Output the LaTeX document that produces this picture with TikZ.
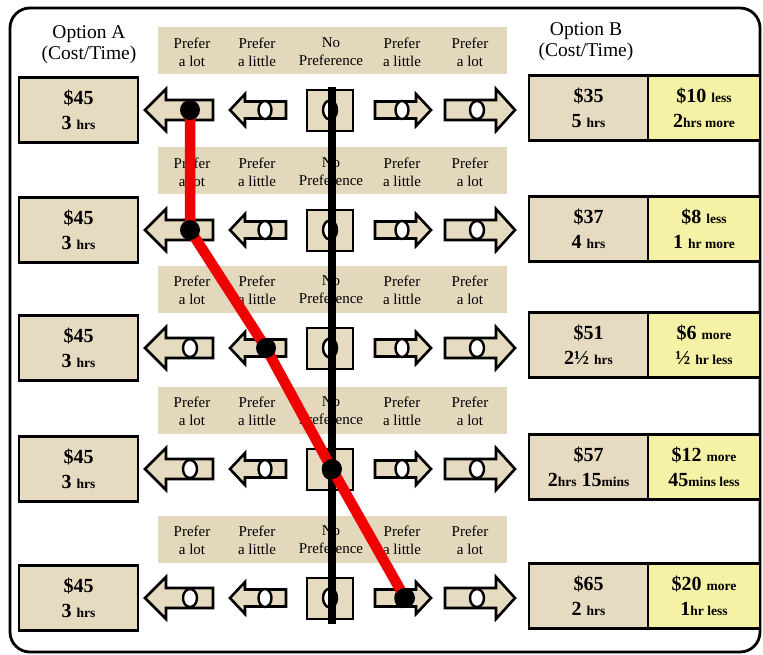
\documentclass[tikz,border=0pt]{standalone}
\usepackage{fontspec}
\setmainfont{Liberation Serif}
\definecolor{tanfill}{RGB}{230,218,193}
\definecolor{bandfill}{RGB}{228,216,188}
\definecolor{yelfill}{RGB}{245,241,165}
\definecolor{redline}{RGB}{240,0,0}
\newcommand\smtxt[1]{{\fontsize{13.5}{25}\selectfont #1}}
\tikzset{
 box/.style={draw=black, line width=2.6pt, fill=tanfill, minimum width=119pt, minimum height=65pt, inner sep=0pt, align=center, font=\bfseries\fontsize{20}{25}\selectfont},
 ybox/.style={box, fill=yelfill, minimum width=112pt},
 band/.style={fill=bandfill, draw=none, minimum width=349pt, minimum height=47pt, inner sep=0pt},
 lbl/.style={align=center, font=\fontsize{15}{18}\selectfont, inner sep=0pt},
 hdr/.style={align=center, font=\fontsize{19.5}{21}\selectfont, inner sep=0pt},
 arr/.style={draw=black, line width=2.6pt, fill=tanfill, line join=miter},
 hole/.style={draw=black, line width=2.4pt, fill=white},
 dot/.style={circle, fill=black, minimum size=20pt, inner sep=0pt},
 redl/.style={draw=redline, line width=10.5pt},
 blackl/.style={draw=black, line width=8pt},
 frame/.style={draw=black, line width=2.8pt, rounded corners=20pt}
}
\begin{document}
\begin{tikzpicture}[x=1pt,y=-1pt]
\useasboundingbox (0,0) rectangle (763,655);
\draw[frame] (10,8) rectangle (760,652);
\node[hdr] (hA) at (89,45) {Option A\\(Cost/Time)};
\node[hdr] (hB) at (586,42) {Option B\\(Cost/Time)};
\foreach \i/\cy in {1/110,2/230,3/348,4/469,5/598}{
  \node[band] (band\i) at (332.5,\cy-59) {};
  \node[lbl] (la\i) at (192,\cy-58) {Prefer\\a lot};
  \node[lbl] (lb\i) at (257,\cy-58) {Prefer\\a little};
  \node[lbl] (lc\i) at (331,\cy-58) {No\\Preference};
  \node[lbl] (ld\i) at (402,\cy-58) {Prefer\\a little};
  \node[lbl] (le\i) at (470,\cy-58) {Prefer\\a lot};
  \node[box] (A\i) at (78.5,\cy) {\$45\\3 \smtxt{hrs}};
  \draw[arr] (145,\cy) -- (166,\cy-21) -- (166,\cy-10) -- (213,\cy-10) -- (213,\cy+10) -- (166,\cy+10) -- (166,\cy+21) -- cycle;
  \draw[hole] (190,\cy) ellipse [x radius=7pt, y radius=9pt];
  \draw[arr] (230,\cy) -- (245,\cy-16) -- (245,\cy-8.5) -- (286,\cy-8.5) -- (286,\cy+8.5) -- (245,\cy+8.5) -- (245,\cy+16) -- cycle;
  \draw[hole] (265,\cy) ellipse [x radius=6.5pt, y radius=9pt];
  \draw[arr] (307,\cy-20) rectangle (353,\cy+21);
  \draw[hole] (330,\cy) ellipse [x radius=7pt, y radius=9.5pt];
  \draw[arr] (431,\cy) -- (416,\cy-16) -- (416,\cy-8.5) -- (375,\cy-8.5) -- (375,\cy+8.5) -- (416,\cy+8.5) -- (416,\cy+16) -- cycle;
  \draw[hole] (402,\cy) ellipse [x radius=6.5pt, y radius=9pt];
  \draw[arr] (515,\cy) -- (496,\cy-21) -- (496,\cy-10) -- (445,\cy-10) -- (445,\cy+10) -- (496,\cy+10) -- (496,\cy+21) -- cycle;
  \draw[hole] (477,\cy) ellipse [x radius=7pt, y radius=9pt];
}
\node[box] (B1) at (588.5,108) {\$35\\5 \smtxt{hrs}};
\node[ybox] (Y1) at (704,108) {\$10 \smtxt{less}\\2\smtxt{hrs more}};
\node[box] (B2) at (588.5,229) {\$37\\4 \smtxt{hrs}};
\node[ybox] (Y2) at (704,229) {\$8 \smtxt{less}\\1 \smtxt{hr more}};
\node[box] (B3) at (588.5,345) {\$51\\2½ \smtxt{hrs}};
\node[ybox] (Y3) at (704,345) {\$6 \smtxt{more}\\½ \smtxt{hr less}};
\node[box] (B4) at (588.5,467) {\$57\\2\smtxt{hrs} 15\smtxt{mins}};
\node[ybox] (Y4) at (704,467) {\$12 \smtxt{more}\\45\smtxt{mins less}};
\node[box] (B5) at (588.5,596) {\$65\\2 \smtxt{hrs}};
\node[ybox] (Y5) at (704,596) {\$20 \smtxt{more}\\1\smtxt{hr less}};
\coordinate (bt) at (332,87);
\coordinate (bb) at (332,624);
\coordinate (p1) at (190,110);
\coordinate (p2) at (190,230);
\coordinate (p3) at (266,348);
\coordinate (p4) at (332,469);
\coordinate (p5) at (405,598);
\draw[blackl] (bt) -- (bb);
\draw[redl] (p1) -- (p2) -- (p3) -- (p4) -- (p5);
\foreach \k in {1,...,5}{\node[dot] (d\k) at (p\k) {};}
\end{tikzpicture}
\end{document}
